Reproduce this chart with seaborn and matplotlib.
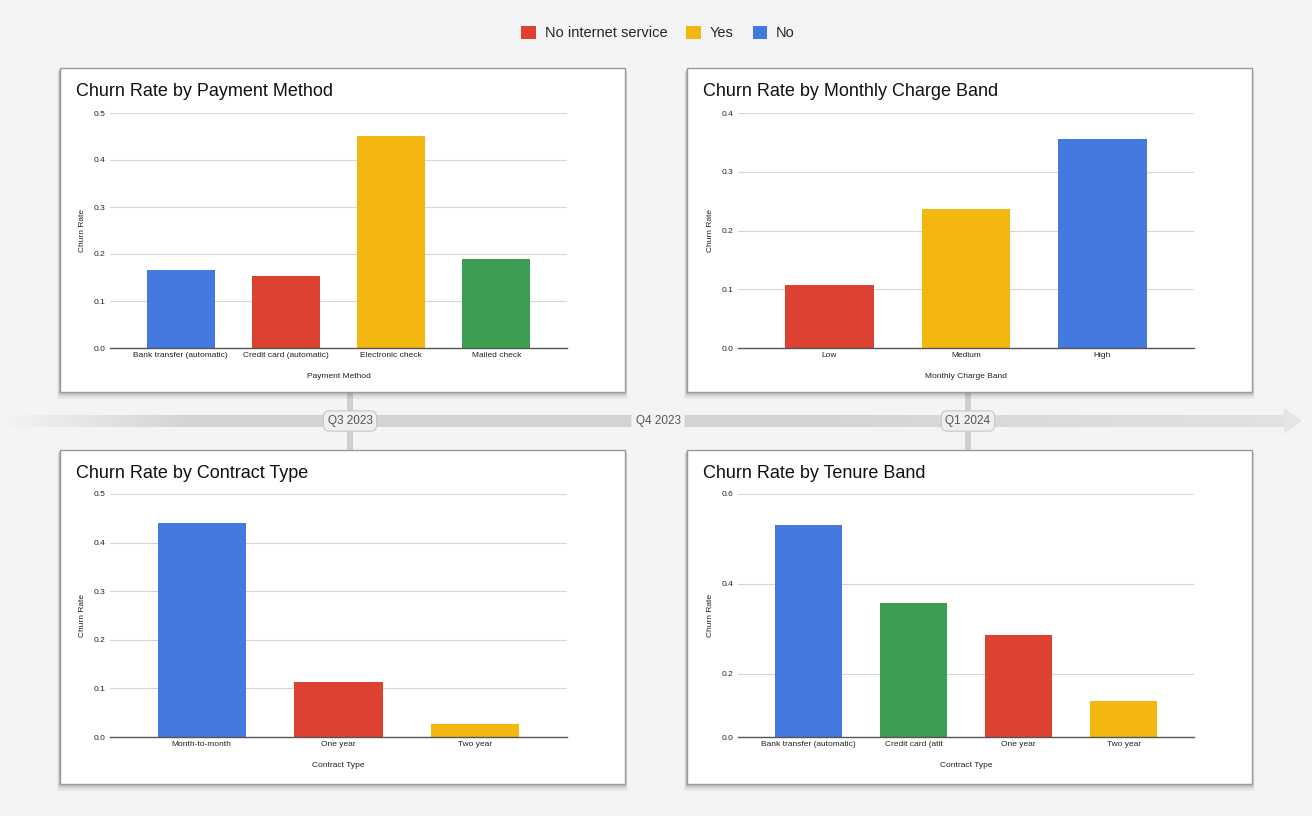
import numpy as np
import matplotlib
matplotlib.use('Agg')
import matplotlib.pyplot as plt
from matplotlib.patches import Rectangle, Polygon, Patch
from matplotlib.ticker import FormatStrFormatter, FixedLocator
import seaborn as sns

# colours
BLUE, RED, YELLOW, GREEN = '#4479E0', '#DC4132', '#F4B70F', '#3B9E51'

# data
pay_cats = ['Bank transfer (automatic)', 'Credit card (automatic)', 'Electronic check', 'Mailed check']
pay_vals = [0.167, 0.153, 0.452, 0.189]
pay_cols = [BLUE, RED, YELLOW, GREEN]

charge_cats = ['Low', 'Medium', 'High']
charge_vals = [0.108, 0.237, 0.356]
charge_cols = [RED, YELLOW, BLUE]

contract_cats = ['Month-to-month', 'One year', 'Two year']
contract_vals = [0.440, 0.113, 0.027]
contract_cols = [BLUE, RED, YELLOW]

tenure_cats = ['Bank transfer (automatic)', 'Credit card (atit', 'One year', 'Two year']
tenure_vals = [0.530, 0.357, 0.287, 0.113]
tenure_cols = [BLUE, GREEN, RED, YELLOW]

legend_labels = ['No internet service', 'Yes', 'No']
legend_cols = [RED, YELLOW, BLUE]

quarters = ['Q3 2023', 'Q4 2023', 'Q1 2024']

sns.set_theme(style='white')
plt.rcParams['font.family'] = ['Liberation Sans', 'DejaVu Sans']

W, H = 1312, 816
BG = '#f3f4f6'
fig = plt.figure(figsize=(W / 100, H / 100), dpi=100, facecolor=BG)

# background layer in pixel coordinates
bg = fig.add_axes([0, 0, 1, 1], zorder=-5)
bg.set_xlim(0, W)
bg.set_ylim(H, 0)
bg.axis('off')

# timeline band with fade
grad = np.ones((1, 400, 4))
grad[..., :3] = np.array([0.83, 0.83, 0.83])
xs = np.linspace(0, 1, 400)
grad[0, :, 3] = np.clip(xs / 0.15, 0, 1) * (1 - 0.45 * np.clip((xs - 0.6) / 0.4, 0, 1))
bg.imshow(grad, extent=[0, 1286, 427, 415], aspect='auto', zorder=1, interpolation='bilinear')
bg.add_patch(Polygon([[1284, 408], [1302, 421], [1284, 434]], closed=True,
                     facecolor='#e4e5e7', edgecolor='none', zorder=1))
for xc in (350, 968):
    bg.add_patch(Rectangle((xc - 3, 390), 6, 62, facecolor='#cfd0d2', edgecolor='none', zorder=1))

for q, xc, boxed in zip(quarters, (350, 658, 968), (True, False, True)):
    bbox = dict(boxstyle='round,pad=0.35,rounding_size=0.5',
                facecolor='#eeeff1' if boxed else BG,
                edgecolor='#c8c8c8' if boxed else 'none', linewidth=0.8)
    bg.text(xc, 421, q, ha='center', va='center', fontsize=8.5, color='#555555',
            bbox=bbox, zorder=3)

# panels with shadow
panels = [(60, 68, 565, 324), (687, 68, 565, 324), (60, 450, 565, 334), (687, 450, 565, 334)]
for (x, y, w, h) in panels:
    for k, a in zip(range(5, 0, -1), (0.03, 0.04, 0.05, 0.07, 0.09)):
        bg.add_patch(Rectangle((x - k * 0.6, y + k * 0.8), w + k * 1.2, h + k * 0.6,
                               facecolor='black', alpha=a, edgecolor='none', zorder=4))
    bg.add_patch(Rectangle((x, y), w, h, facecolor='white', edgecolor='#9a9a9a',
                           linewidth=1, zorder=5))


def px_rect(x, y, w, h):
    return [x / W, 1 - (y + h) / H, w / W, h / H]


def draw(rect, cats, vals, cols, title, xlabel, ymax, ystep, title_xy):
    ax = fig.add_axes(px_rect(*rect))
    ax.set_facecolor('none')
    sns.barplot(x=cats, y=vals, hue=cats, palette=cols, legend=False,
                saturation=1, width=0.645, linewidth=0, ax=ax, zorder=3)
    n = len(cats)
    ax.set_xlim(-0.67, n - 1 + 0.67)
    ax.set_ylim(0, ymax)
    ax.yaxis.set_major_locator(FixedLocator(np.arange(0, ymax + 1e-9, ystep)))
    ax.yaxis.set_major_formatter(FormatStrFormatter('%.1f'))
    ax.grid(axis='y', color='#d6d6d6', linewidth=0.8, zorder=0)
    for s in ('top', 'right', 'left'):
        ax.spines[s].set_visible(False)
    ax.spines['bottom'].set_color('#555555')
    ax.spines['bottom'].set_linewidth(1.0)
    ax.spines['bottom'].set_zorder(4)
    ax.tick_params(axis='both', length=0, labelsize=6, colors='#222222', pad=3)
    ax.set_xlabel(xlabel, fontsize=6, color='#222222', labelpad=10)
    ax.set_ylabel('Churn Rate', fontsize=6, color='#222222', labelpad=6)
    fig.text(title_xy[0] / W, 1 - title_xy[1] / H, title, fontsize=13,
             color='#111111', ha='left', va='center')
    return ax


draw((110, 113, 457, 235), pay_cats, pay_vals, pay_cols,
     'Churn Rate by Payment Method', 'Payment Method', 0.5, 0.1, (76, 91))
draw((738, 113, 456, 235), charge_cats, charge_vals, charge_cols,
     'Churn Rate by Monthly Charge Band', 'Monthly Charge Band', 0.4, 0.1, (703, 91))
draw((110, 494, 457, 243), contract_cats, contract_vals, contract_cols,
     'Churn Rate by Contract Type', 'Contract Type', 0.5, 0.1, (76, 473))
ax4 = draw((738, 494, 456, 243), tenure_cats, tenure_vals, tenure_cols,
           'Churn Rate by Tenure Band', 'Contract Type', 0.6, 0.2, (703, 473))

# the reference's tenure axis has a compressed first interval
fwd = lambda v: np.interp(v, [0, 0.2, 0.6], [0, 190, 730])
inv = lambda p: np.interp(p, [0, 190, 730], [0, 0.2, 0.6])
ax4.set_yscale('function', functions=(fwd, inv))
ax4.set_ylim(0, 0.6)
ax4.yaxis.set_major_locator(FixedLocator([0, 0.2, 0.4, 0.6]))
ax4.yaxis.set_major_formatter(FormatStrFormatter('%.1f'))
ax4.yaxis.set_minor_locator(FixedLocator([]))

handles = [Patch(facecolor=c, edgecolor='none', label=l) for l, c in zip(legend_labels, legend_cols)]
fig.legend(handles=handles, loc='center', bbox_to_anchor=(658 / W, 1 - 33 / H), ncol=3,
           frameon=False, fontsize=10.5, handlelength=1.0, handleheight=1.0,
           handletextpad=0.6, columnspacing=1.3)

fig.savefig('out.png', dpi=100, facecolor=BG)
